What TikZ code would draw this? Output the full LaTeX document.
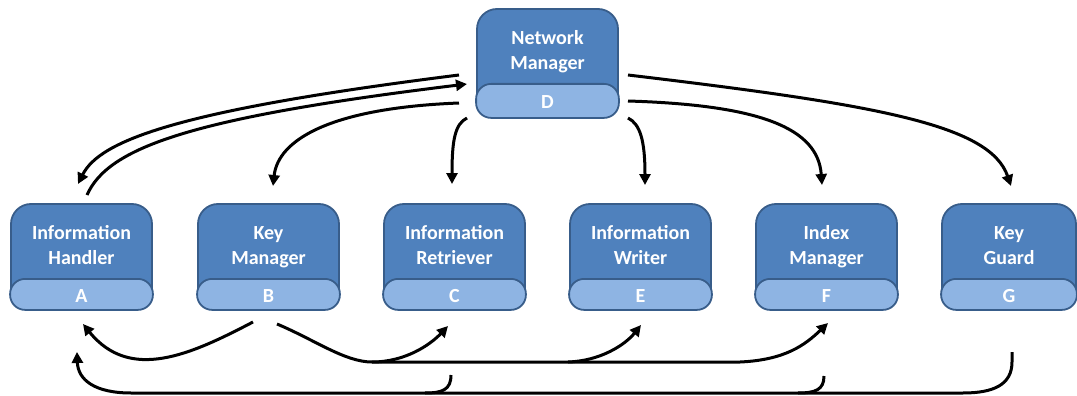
\documentclass[tikz,border=0pt]{standalone}
\usepackage{fontspec}
\setmainfont{Carlito}
\usetikzlibrary{arrows.meta,calc}
\definecolor{bodyblue}{RGB}{79,129,189}
\definecolor{bandblue}{RGB}{142,180,227}
\definecolor{edgeblue}{RGB}{56,93,138}

\tikzset{
  body/.style={draw=edgeblue, fill=bodyblue, line width=1.8pt, rounded corners=20pt,
               minimum width=141pt, inner sep=0pt},
  band/.style={draw=edgeblue, fill=bandblue, line width=1.8pt, rounded corners=15pt},
  title/.style={text=white, font=\bfseries\fontsize{20}{24.5}\selectfont, align=center, inner sep=0pt},
  tag/.style={text=white, font=\bfseries\fontsize{20}{24}\selectfont, inner sep=0pt},
  link/.style={line width=3pt, black},
  flow/.style={link, -{Triangle[length=11pt,width=11pt]}},
}

% #1 name, #2 centre x, #3 centre y, #4 height, #5 band height, #6 title, #7 letter
% (the title is placed by the baseline of its second line)
\newcommand{\modulebox}[7]{%
  \node[body, minimum height=#4] (#1) at (#2,#3) {};
  \draw[band] ($(#1.south west)+(0,-#5)$) rectangle (#1.south east);
  \node[title, anchor=base] (#1-title) at ($(#1.north)+(0,61)$) {#6};
  \node[tag, anchor=base] (#1-tag) at ($(#1.south)+(0,-#5/2+8)$) {#7};
}

\begin{document}
\begin{tikzpicture}[x=1pt, y=-1pt]
\useasboundingbox (0,0) rectangle (1077,396);

% modules
\modulebox{D}{547.5}{63}{108pt}{34}{Network\\Manager}{D}
\modulebox{A}{81.5}{256.5}{105pt}{31}{Information\\Handler}{A}
\modulebox{B}{268.5}{256.5}{105pt}{31}{Key\\Manager}{B}
\modulebox{C}{454.5}{256.5}{105pt}{31}{Information\\Retriever}{C}
\modulebox{E}{640.5}{256.5}{105pt}{31}{Information\\Writer}{E}
\modulebox{F}{826.5}{256.5}{105pt}{31}{Index\\Manager}{F}
\begin{scope}[body/.append style={minimum width=134pt}]
\modulebox{G}{1009}{256.5}{105pt}{31}{Key\\Guard}{G}
\end{scope}

% ends of the links around the network manager
\coordinate (d-l1) at (459,75);
\coordinate (d-l2) at (467,84);
\coordinate (d-l3) at (459,103);
\coordinate (d-l4) at (467,118);
\coordinate (d-r1) at (628,75);
\coordinate (d-r2) at (628,101);
\coordinate (d-r3) at (628,118);
\coordinate (a-t1) at (78,184);
\coordinate (a-t2) at (87,195);
\coordinate (b-t) at (273,186);
\coordinate (c-t) at (452,184);
\coordinate (e-t) at (645,185);
\coordinate (f-t) at (822,185);
\coordinate (g-t) at (1011,186);

% links between the network manager and the modules
\draw[flow] (d-l1) .. controls (180,110) and (100,140) .. (a-t1);
\draw[flow] (a-t2) .. controls (108,148) and (188,118) .. (d-l2);
\draw[flow] (d-l3) .. controls (330,108) and (278,140) .. (b-t);
\draw[flow] (d-l4) .. controls (455,124) and (452,140) .. (c-t);
\draw[flow] (d-r3) .. controls (640,124) and (645,140) .. (e-t);
\draw[flow] (d-r2) .. controls (760,105) and (818,128) .. (f-t);
\draw[flow] (d-r1) .. controls (880,105) and (990,125) .. (g-t);

% ends of the links below the modules
\coordinate (b-b1) at (253,322);
\coordinate (a-b1) at (83,324);
\coordinate (b-b2) at (277,324);
\coordinate (j1) at (372,362);
\coordinate (j2) at (568,362);
\coordinate (j3) at (740,362);
\coordinate (c-b1) at (448,326);
\coordinate (e-b) at (641,325);
\coordinate (f-b1) at (828,323);
\coordinate (g-b) at (1012,352);
\coordinate (a-b2) at (77,352);
\coordinate (c-b2) at (451,375);
\coordinate (f-b2) at (824,376);

% key manager to the handler, retriever, writer and index manager
\draw[flow] (b-b1) .. controls (190,355) and (130,382) .. (a-b1);
\draw[flow] (b-b2) .. controls (315,340) and (345,362) .. (j1) -- (j3)
            .. controls (785,360) and (805,345) .. (f-b1);
\draw[flow] (j1) .. controls (405,362) and (430,345) .. (c-b1);
\draw[flow] (j2) .. controls (600,361) and (625,345) .. (e-b);

% retriever, index manager and key guard back to the handler
\draw[flow] (g-b) -- (1012,362) .. controls (1012,385) and (993,393) .. (963,393)
            -- (131,393) .. controls (95,393) and (78,380) .. (a-b2);
\draw[link] (c-b2) .. controls (451,390) and (442,393) .. (425,393);
\draw[link] (f-b2) .. controls (824,390) and (815,393) .. (798,393);
\end{tikzpicture}
\end{document}
